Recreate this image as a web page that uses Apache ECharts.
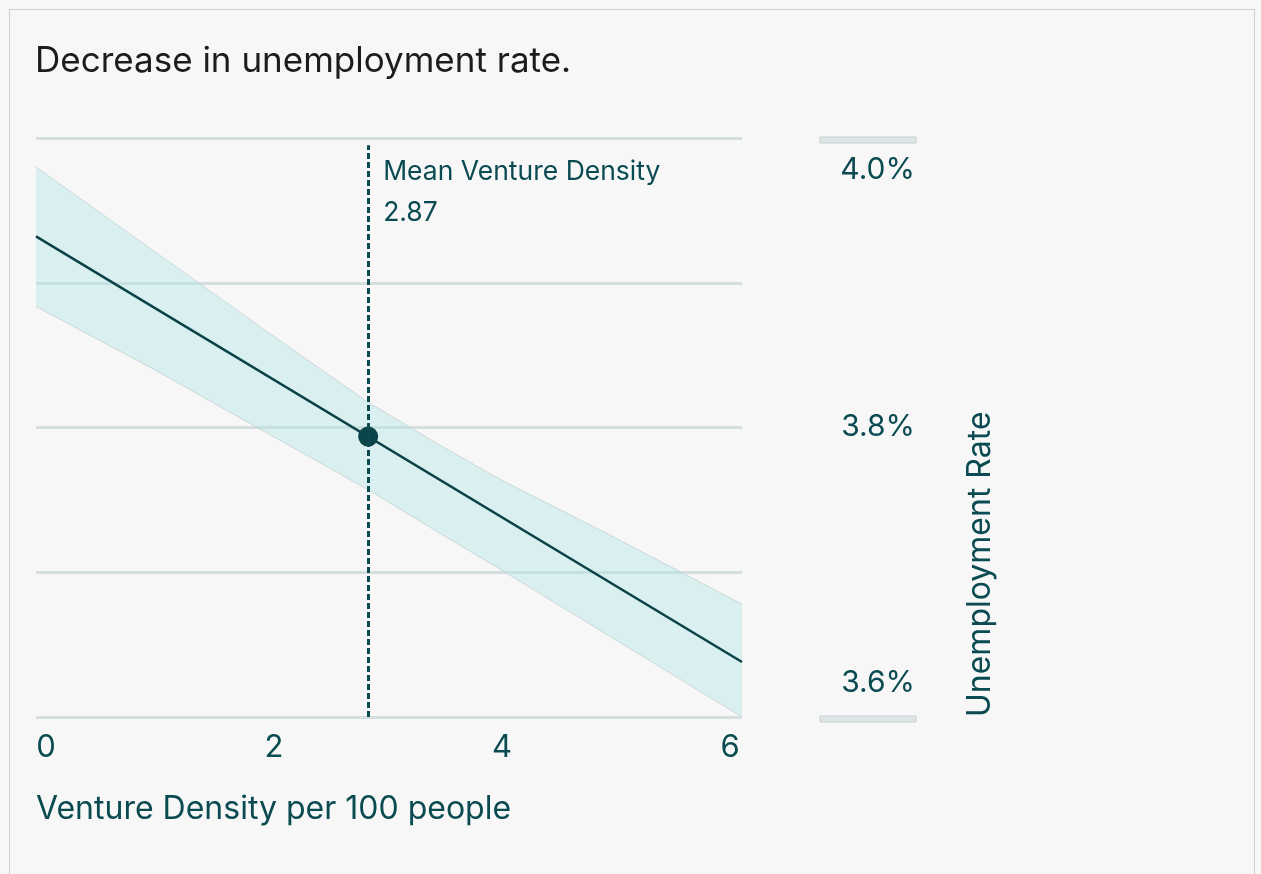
<!DOCTYPE html>
<html>
<head>
<meta charset="utf-8">
<script src="https://cdn.jsdelivr.net/npm/echarts@6/dist/echarts.min.js"></script>
<style>
  html, body { margin: 0; padding: 0; background: #f7f7f7; width: 1261px; height: 874px; overflow: hidden; }
  #frame { position: absolute; left: 9px; top: 9px; width: 1246px; height: 900px; border: 1px solid #cfcfcf; box-sizing: border-box; }
  #chart { position: absolute; left: 0; top: 0; width: 1261px; height: 874px; }
</style>
</head>
<body>
<div id="frame"></div>
<div id="chart"></div>
<script>
// ---- data ----
const titleText = 'Decrease in unemployment rate.';
const xAxisTitle = 'Venture Density per 100 people';
const yAxisTitle = 'Unemployment Rate';
const xTickValues = [0, 2, 4, 6];
const yTickValues = [3.6, 3.8, 4.0];
const bandX = [0, 1, 2, 2.87, 3.5, 4, 5, 6.1];
const bandUpper = [3.980, 3.923, 3.866, 3.8174, 3.7873, 3.7646, 3.724, 3.678];
const bandLower = [3.8836, 3.841, 3.796, 3.757, 3.7264, 3.7026, 3.6537, 3.600];
const lineX = [0, 6.1];
const lineY = [3.932, 3.638];
const meanX = 2.87;
const meanY = 3.7937;
const meanLabel = 'Mean Venture Density';

// ---- build ----
const teal = '#0a4a51';
const lineColor = '#0b4247';
const font = 'Inter, "Open Sans", sans-serif';

const bandData = bandX.map((x, i) => [x, bandLower[i], bandUpper[i]]);
const lineData = lineX.map((x, i) => [x, lineY[i]]);

function renderBand(params, api) {
  if (params.dataIndex !== 0) return null;
  const up = bandData.map(d => api.coord([d[0], d[2]]));
  const lo = bandData.map(d => api.coord([d[0], d[1]]));
  const poly = up.concat(lo.slice().reverse());
  return {
    type: 'group',
    children: [
      { type: 'polygon', shape: { points: poly }, style: { fill: 'rgba(178,228,230,0.42)', stroke: null } },
      { type: 'polyline', shape: { points: up }, style: { stroke: '#c3d0d0', lineWidth: 0.8, fill: null } },
      { type: 'polyline', shape: { points: lo }, style: { stroke: '#c3d0d0', lineWidth: 0.8, fill: null } }
    ]
  };
}

const chart = echarts.init(document.getElementById('chart'), null, { renderer: 'canvas' });
chart.setOption({
  backgroundColor: 'transparent',
  animation: false,
  title: {
    text: titleText, left: 30, top: 39,
    textStyle: { fontFamily: font, fontSize: 35, fontWeight: 'normal', color: '#1c1c1c' }
  },
  grid: { left: 36, right: 519, top: 138, bottom: 157, containLabel: false },
  xAxis: [
    { type: 'value', min: 0, max: 6.1, show: true,
      axisLine: { show: false }, axisTick: { show: false }, axisLabel: { show: false }, splitLine: { show: false } },
    { type: 'value', min: -0.0877, max: 6.105, position: 'bottom',
      axisLine: { show: false }, axisTick: { show: false }, splitLine: { show: false },
      axisLabel: { customValues: xTickValues, color: teal, fontFamily: font, fontSize: 31, margin: 15 },
      name: xAxisTitle, nameLocation: 'start', nameGap: 0,
      nameTextStyle: { color: teal, fontFamily: font, fontSize: 32, align: 'left', verticalAlign: 'top', padding: [76, 0, 0, 0] } }
  ],
  yAxis: [
    { type: 'value', min: 3.6, max: 4.0, interval: 0.1, position: 'right',
      axisLine: { show: false }, axisTick: { show: false }, axisLabel: { show: false },
      splitLine: { show: true, lineStyle: { color: '#d6dfe0', width: 3 } } },
    { type: 'value', min: 3.5735, max: 4.02495, position: 'right',
      axisLine: { show: false }, axisTick: { show: false }, splitLine: { show: false },
      axisLabel: { customValues: yTickValues, formatter: v => v.toFixed(1) + '%', color: teal, fontFamily: font, fontSize: 30, align: 'right', margin: 173 } }
  ],
  graphic: [
    { type: 'rect', shape: { x: 820, y: 137, width: 96, height: 6 }, style: { fill: '#dde5e6', stroke: '#c9d0d0', lineWidth: 1 } },
    { type: 'rect', shape: { x: 820, y: 716, width: 96, height: 6 }, style: { fill: '#dde5e6', stroke: '#c9d0d0', lineWidth: 1 } },
    { type: 'text', x: 964, y: 717, rotation: Math.PI / 2,
      style: { text: yAxisTitle, fill: teal, font: '32px Inter, "Open Sans", sans-serif', textAlign: 'left', textVerticalAlign: 'top' } }
  ],
  series: [
    { type: 'custom', name: 'band', data: bandData, renderItem: renderBand, z: 1, silent: true,
      encode: { x: 0, y: [1, 2] } },
    { type: 'line', name: 'fit', data: lineData, symbol: 'none',
      lineStyle: { color: lineColor, width: 2.5 }, z: 3,
      markLine: {
        silent: true, symbol: 'none',
        lineStyle: { color: teal, width: 3, type: [6, 3] },
        label: { show: false },
        data: [[{ coord: [meanX, 3.6] }, { coord: [meanX, 3.995] }]]
      },
      markPoint: {
        symbol: 'circle', symbolSize: 0, silent: true,
        data: [{ coord: [meanX, 3.995] }],
        label: { show: true, position: [15, 6], align: 'left', verticalAlign: 'top',
          formatter: meanLabel + '\n' + meanX.toFixed(2), color: teal, fontFamily: font, fontSize: 26.5, lineHeight: 41 }
      }
    },
    { type: 'scatter', name: 'mean', data: [[meanX, meanY]], symbolSize: 20,
      itemStyle: { color: '#0a4449', opacity: 1 }, z: 4 }
  ]
});
</script>
</body>
</html>
